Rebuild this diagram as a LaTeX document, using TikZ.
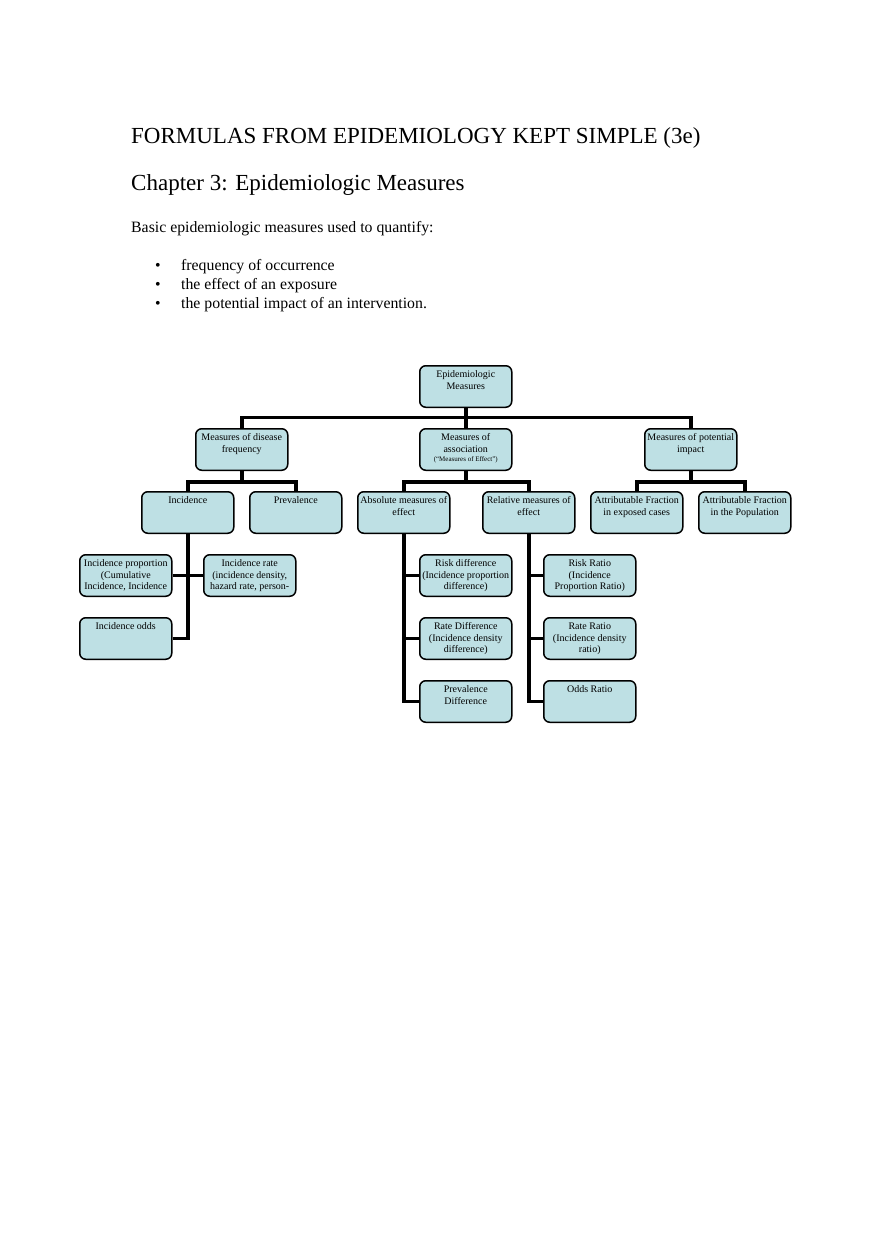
\documentclass[tikz,border=0pt]{standalone}
\usepackage{fontspec}
\setmainfont{Liberation Serif}
\usetikzlibrary{positioning}
\definecolor{boxblue}{RGB}{190,224,228}
\tikzset{
  mbox/.style={draw=black, line width=1.5pt, rounded corners=6pt, fill=boxblue,
    inner sep=0pt, minimum width=92pt, minimum height=41.5pt, anchor=north west},
  conn/.style={draw=black, line width=3.5pt, line cap=butt, line join=miter},
  ttl/.style={anchor=base west, inner sep=0pt, font=\fontsize{23}{27}\selectfont},
  body/.style={anchor=base west, inner sep=0pt, font=\fontsize{15.8}{19}\selectfont}
}
\newcommand{\bxt}[1]{\parbox[c][41.5pt][t]{92pt}{\centering\fontsize{10}{11.3}\selectfont\rule{0pt}{12pt}#1}}
\begin{document}
\begin{tikzpicture}[x=1pt,y=1pt]
\useasboundingbox (0,0) rectangle (880,-1247);
% header texts
\node[ttl] (title) at (131,-143) {FORMULAS FROM EPIDEMIOLOGY KEPT SIMPLE (3e)};
\node[ttl] (chap) at (131,-190) {Chapter 3: Epidemiologic Measures};
\node[body] (intro) at (131,-232) {Basic epidemiologic measures used to quantify:};
\node[body] (b1) at (155,-270) {•};
\node[body] (t1) at (181,-270) {frequency of occurrence};
\node[body] (b2) at (155,-289) {•};
\node[body] (t2) at (181,-289) {the effect of an exposure};
\node[body] (b3) at (155,-308) {•};
\node[body] (t3) at (181,-308) {the potential impact of an intervention.};
% boxes
\node[mbox] (root) at (419,-365) {\bxt{Epidemiologic\\Measures}};
\node[mbox] (mdf) at (195,-428) {\bxt{Measures of disease\\frequency}};
\node[mbox] (mas) at (419,-428) {\parbox[c][41.5pt][t]{92pt}{\centering\fontsize{10}{11.3}\selectfont\rule{0pt}{12pt}Measures of\\association\\[-2.2pt]{\fontsize{7}{8}\selectfont (“Measures of Effect”)}}};
\node[mbox] (mpi) at (644,-428) {\bxt{Measures of potential\\impact}};
\node[mbox] (inc) at (141,-491) {\bxt{Incidence}};
\node[mbox] (prev) at (249,-491) {\bxt{Prevalence}};
\node[mbox] (abs) at (357,-491) {\bxt{Absolute measures of\\effect}};
\node[mbox] (rel) at (482,-491) {\bxt{Relative measures of\\effect}};
\node[mbox] (afe) at (590,-491) {\bxt{Attributable Fraction\\in exposed cases}};
\node[mbox] (afp) at (698,-491) {\bxt{Attributable Fraction\\in the Population}};
\node[mbox] (iprop) at (79,-554) {\bxt{Incidence proportion\\(Cumulative\\Incidence, Incidence}};
\node[mbox] (irate) at (203,-554) {\bxt{Incidence rate\\(incidence density,\\hazard rate, person-}};
\node[mbox] (iodds) at (79,-617) {\bxt{Incidence odds}};
\node[mbox] (riskd) at (419,-554) {\bxt{Risk difference\\(Incidence proportion\\difference)}};
\node[mbox] (rated) at (419,-617) {\bxt{Rate Difference\\(Incidence density\\difference)}};
\node[mbox] (prevd) at (419,-680) {\bxt{Prevalence\\Difference}};
\node[mbox] (riskr) at (543,-554) {\bxt{Risk Ratio\\(Incidence\\Proportion Ratio)}};
\node[mbox] (rater) at (543,-617) {\bxt{Rate Ratio\\(Incidence density\\ratio)}};
\node[mbox] (oddsr) at (543,-680) {\bxt{Odds Ratio}};
% connectors
\draw[conn] (root.south) -- (mas.north);
\draw[conn] (mdf.north) -- ++(0,10.5) -| (mpi.north);
\draw[conn] (mdf.south) -- ++(0,-11) -| (prev.north);
\draw[conn] (mdf.south) -- ++(0,-11) -| (inc.north);
\draw[conn] (mas.south) -- ++(0,-11) -| (abs.north);
\draw[conn] (mas.south) -- ++(0,-11) -| (rel.north);
\draw[conn] (mpi.south) -- ++(0,-11) -| (afe.north);
\draw[conn] (mpi.south) -- ++(0,-11) -| (afp.north);
\draw[conn] (inc.south) |- (iodds.east);
\draw[conn] (iprop.east) -- (irate.west);
\draw[conn] (abs.south) |- (prevd.west);
\draw[conn] (abs.south |- riskd.west) -- (riskd.west);
\draw[conn] (abs.south |- rated.west) -- (rated.west);
\draw[conn] (rel.south) |- (oddsr.west);
\draw[conn] (rel.south |- riskr.west) -- (riskr.west);
\draw[conn] (rel.south |- rater.west) -- (rater.west);
\end{tikzpicture}
\end{document}
